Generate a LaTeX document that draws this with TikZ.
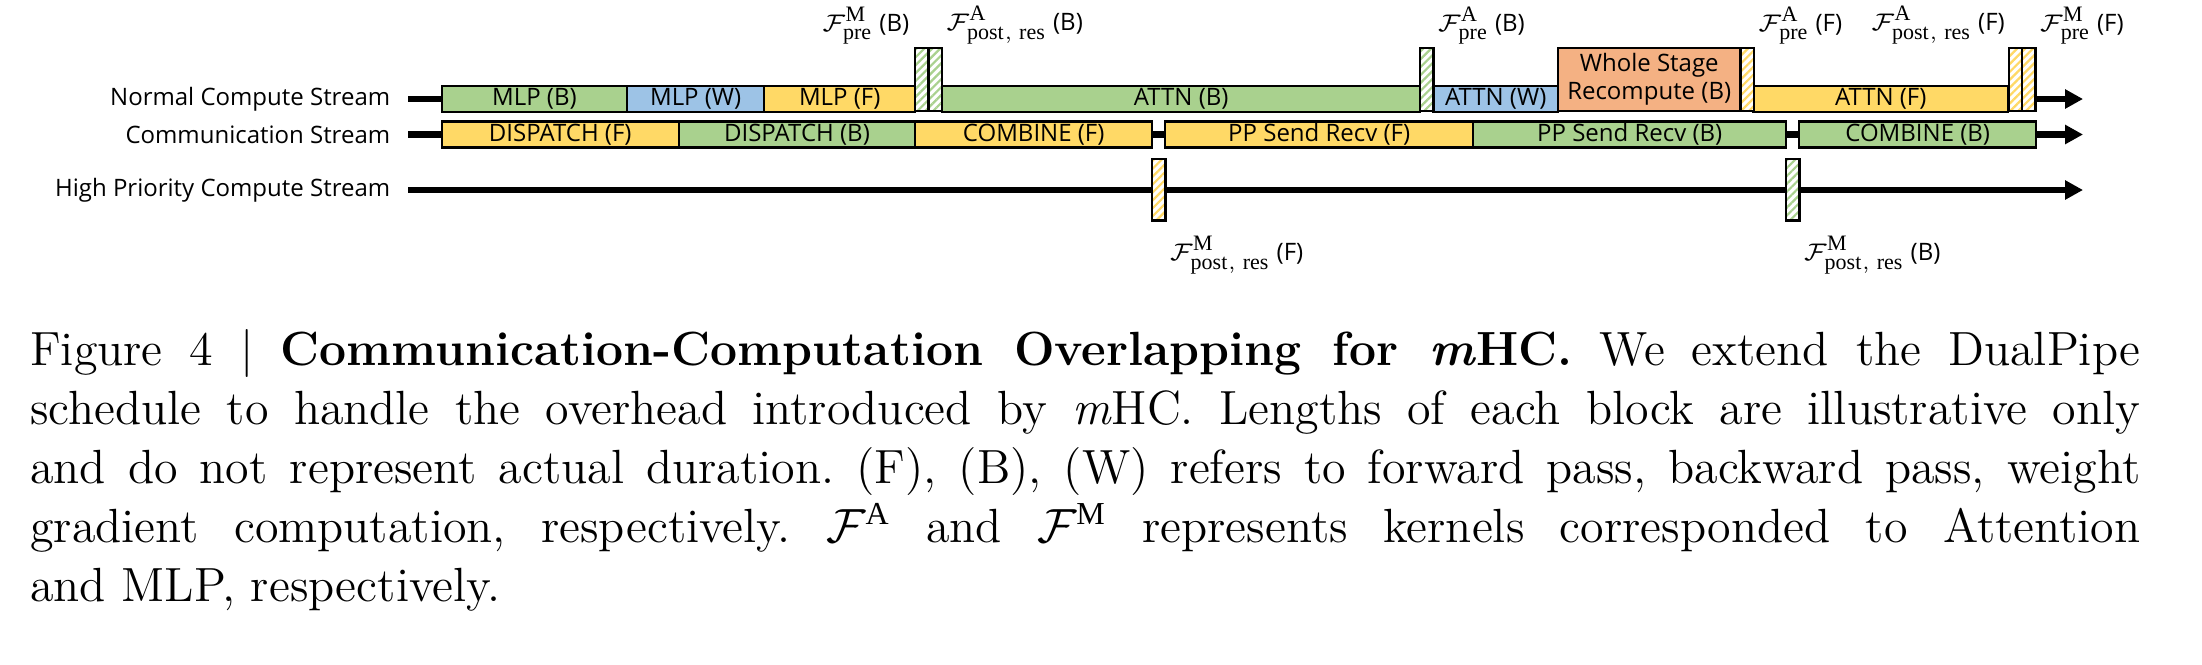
\documentclass[tikz,border=0pt]{standalone}
\usepackage{fontspec}
\setsansfont{Open Sans}
\setmathrm{Liberation Serif}
\DeclareMathSizes{6}{6}{5.5}{4.5}
\usetikzlibrary{arrows.meta}
\usetikzlibrary{positioning}
\usetikzlibrary{patterns.meta}

\definecolor{blkgreen}{HTML}{A9D18E}
\definecolor{blkblue}{HTML}{9DC3E6}
\definecolor{blkyellow}{HTML}{FFD966}
\definecolor{blkorange}{HTML}{F4B183}

\begin{document}
\frenchspacing
\begin{tikzpicture}[x=0.25pt, y=-0.25pt,
    font=\sffamily\fontsize{6}{7}\selectfont,
    stream/.style={line width=1.7pt, -{Triangle[length=4.5pt, width=4.6pt]}},
    streamlabel/.style={anchor=east, inner sep=0pt},
    block/.style={draw, line width=0.6pt, inner sep=0pt, anchor=west, minimum height=6.5pt},
    tallblock/.style={block, anchor=south west, minimum height=15.75pt},
    hatchbox/.style={draw, line width=0.6pt, inner sep=0pt, minimum width=3.35pt,
        preaction={fill=white}, pattern={Lines[angle=45, distance=1.4pt, line width=0.55pt]}},
    kernel/.style={inner sep=0.5pt},
  ]
    \useasboundingbox (0,0) rectangle (2202,664);

    % streams
    \node [streamlabel] (lblNormal) at (391,99) {Normal Compute Stream};
    \node [streamlabel] (lblComm) at (391,134.5) {Communication Stream};
    \node [streamlabel] (lblHigh) at (391,190) {High Priority Compute Stream};
    \coordinate (nrmStart) at (408,99);
    \coordinate (nrmEnd) at (2083,99);
    \coordinate (comStart) at (408,134.5);
    \coordinate (comEnd) at (2083,134.5);
    \coordinate (hpStart) at (408,190);
    \coordinate (hpEnd) at (2083,190);
    \draw [stream] (nrmStart) -- (nrmEnd);
    \draw [stream] (comStart) -- (comEnd);
    \draw [stream] (hpStart) -- (hpEnd);

    % normal compute stream
    \foreach \xa/\xb/\col/\txt/\name in {440.5/626/blkgreen/MLP (B)/mlpB, 626/763/blkblue/MLP (W)/mlpW,
        763/914/blkyellow/MLP (F)/mlpF, 941/1419/blkgreen/ATTN (B)/attnB,
        1432/1557/blkblue/ATTN (W)/attnW, 1752/2007/blkyellow/ATTN (F)/attnF}
      {\pgfmathsetmacro\blkw{(\xb-\xa)/4}
       \node [block, fill=\col, minimum width=\blkw pt] (\name) at (\xa,99) {\txt};}
    \node [tallblock, fill=blkorange, minimum width=45.5pt, align=center] (recompB) at (1557,112)
        {Whole Stage\\Recompute (B)};

    % communication stream
    \foreach \xa/\xb/\col/\txt/\name in {440.5/677.5/blkyellow/DISPATCH (F)/dispF, 677.5/914/blkgreen/DISPATCH (B)/dispB,
        914/1151/blkyellow/COMBINE (F)/combF, 1164/1472/blkyellow/PP Send Recv (F)/ppF,
        1472/1785/blkgreen/PP Send Recv (B)/ppB, 1798/2035/blkgreen/COMBINE (B)/combB}
      {\pgfmathsetmacro\blkw{(\xb-\xa)/4}
       \node [block, fill=\col, minimum width=\blkw pt] (\name) at (\xa,134.5) {\txt};}

    % mHC kernels
    \node [hatchbox, pattern color=blkgreen, anchor=south west, minimum height=15.75pt] (hMpreB) at (914,112) {};
    \node [hatchbox, pattern color=blkgreen, anchor=south west, minimum height=15.75pt] (hApostB) at (927.4,112) {};
    \node [hatchbox, pattern color=blkgreen, anchor=south west, minimum height=15.75pt] (hApreB) at (1419,112) {};
    \node [hatchbox, pattern color=blkyellow, anchor=south west, minimum height=15.75pt] (hApreF) at (1739.5,112) {};
    \node [hatchbox, pattern color=blkyellow, anchor=south west, minimum height=15.75pt] (hApostF) at (2007.5,112) {};
    \node [hatchbox, pattern color=blkyellow, anchor=south west, minimum height=15.75pt] (hMpreF) at (2021,112) {};
    \node [hatchbox, pattern color=blkyellow, anchor=north west, minimum height=15.4pt] (hMpostF) at (1151,157.5) {};
    \node [hatchbox, pattern color=blkgreen, anchor=north west, minimum height=15.4pt] (hMpostB) at (1785,157.5) {};

    % kernel labels
    \node [kernel, above left=0pt and 0.5pt of hMpreB.north west] (kMpreB) {$\mathcal{F}^{\mathrm{M}}_{\mathrm{pre}}$ (B)};
    \node [kernel, above right=0pt and 0pt of hApostB.north east] (kApostB) {$\mathcal{F}^{\mathrm{A}}_{\mathrm{post,\ res}}$ (B)};
    \node [kernel, above right=0pt and 0pt of hApreB.north east] (kApreB) {$\mathcal{F}^{\mathrm{A}}_{\mathrm{pre}}$ (B)};
    \node [kernel, above right=0pt and 0pt of hApreF.north east] (kApreF) {$\mathcal{F}^{\mathrm{A}}_{\mathrm{pre}}$ (F)};
    \node [kernel, above left=0pt and 0pt of hApostF.north west] (kApostF) {$\mathcal{F}^{\mathrm{A}}_{\mathrm{post,\ res}}$ (F)};
    \node [kernel, above right=0pt and 0pt of hMpreF.north east] (kMpreF) {$\mathcal{F}^{\mathrm{M}}_{\mathrm{pre}}$ (F)};
    \node [kernel, below right=3pt and 0pt of hMpostF.south east] (kMpostF) {$\mathcal{F}^{\mathrm{M}}_{\mathrm{post,\ res}}$ (F)};
    \node [kernel, below right=3pt and 0pt of hMpostB.south east] (kMpostB) {$\mathcal{F}^{\mathrm{M}}_{\mathrm{post,\ res}}$ (B)};

    % caption
    \node [anchor=base west, inner sep=0pt, text width=527.5pt, align=justify,
        font=\rmfamily\fontsize{12}{14.75}\selectfont] (caption) at (29.5,365)
        {Figure 4 | \textbf{Communication-Computation Overlapping for \textit{m}HC.} We extend the DualPipe\linebreak
        schedule to handle the overhead introduced by \textit{m}HC. Lengths of each block are illustrative only\linebreak
        and do not represent actual duration. (F), (B), (W) refers to forward pass, backward pass, weight\linebreak
        gradient computation, respectively. $\mathcal{F}^{\mathrm{A}}$ and $\mathcal{F}^{\mathrm{M}}$ represents kernels corresponded to Attention\linebreak
        and MLP, respectively.};
\end{tikzpicture}
\end{document}
